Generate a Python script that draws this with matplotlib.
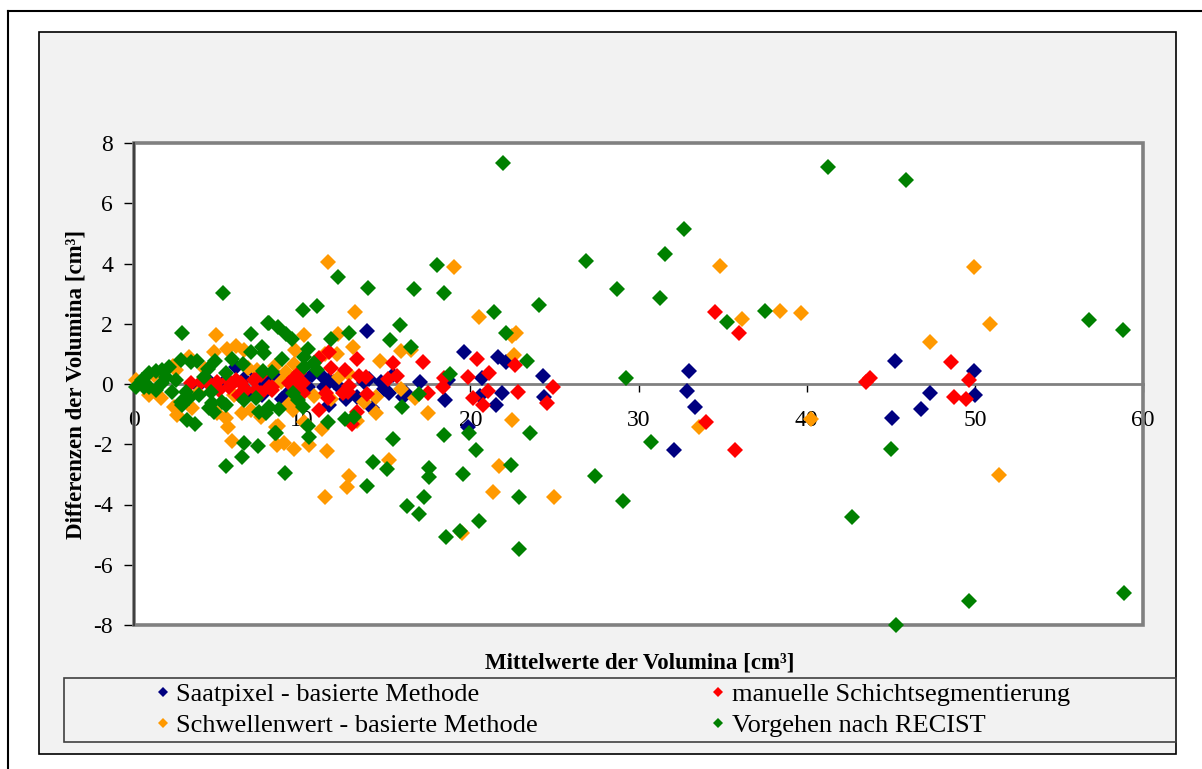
import matplotlib
matplotlib.use("Agg")
import matplotlib.pyplot as plt
from matplotlib.patches import Rectangle
from matplotlib.lines import Line2D

plt.rcParams['font.family'] = ['Liberation Serif', 'DejaVu Serif']

W, H = 1202, 769

# Mean volume (x) and volume difference (y), cm^3
saat_x = [32.98, 32.88, 33.37, 32.12, 45.26, 49.98, 50.02, 47.36, 46.81, 45.1,
          19.64, 21.65, 22.12, 20.69, 24.3, 18.69, 18.49, 20.6, 21.9, 21.53, 24.38, 19.84,
          13.83, 11.21, 11.61, 11.31, 9.23, 10.12, 10.32, 9.03, 13.29, 12.6, 11.61, 14.68,
          14.88, 15.18, 15.97, 14.18, 9.72, 6.05, 6.55, 7.64, 5.46, 7.44, 7.84,
          5.2, 6.8, 7.2, 8.6, 9.5, 10.6, 11.9, 12.3, 13.7, 14.0, 15.4, 16.2, 17.0, 8.8, 4.5, 3.8]
saat_y = [0.42, -0.22, -0.76, -2.18, 0.77, 0.42, -0.37, -0.31, -0.83, -1.13,
          1.06, 0.91, 0.73, 0.19, 0.27, 0.13, -0.53, -0.40, -0.31, -0.71, -0.44, -1.44,
          1.77, 0.24, 0.13, -0.09, 0.24, 0.13, -0.09, -0.37, -0.42, -0.50, -0.70, 0.08,
          -0.18, -0.29, -0.42, -0.81, 0.08, 0.55, 0.16, -0.37, 0.13, -0.09, 0.13,
          -0.1, -0.25, 0.35, 0.2, -0.2, 0.3, 0.05, -0.15, 0.05, 0.15, 0.3, -0.3, 0.05, -0.5, 0.05, -0.05]

manuell_x = [34.56, 35.99, 33.99, 35.75, 43.5, 43.75, 48.57, 49.66, 48.75, 49.46,
             17.2, 20.4, 22.68, 21.09, 19.84, 18.43, 18.37, 17.48, 21.05, 20.16, 20.75, 22.86, 24.92, 24.54,
             11.61, 11.01, 13.29, 11.71, 12.56, 15.38, 15.63, 15.08, 13.79, 13.35, 8.23, 9.82, 9.52,
             10.02, 9.23, 9.72, 10.02, 12.76, 12.44, 11.41, 12.7, 13.83, 11.51, 11.01, 13.29, 12.99,
             3.37, 3.97, 4.46, 4.96, 5.56, 6.05, 5.06, 5.65, 6.35, 6.65, 7.14, 7.24, 8.04, 8.23,
             6.25, 4.66, 7.54, 7.54]
manuell_y = [2.40, 1.70, -1.27, -2.18, 0.08, 0.2, 0.73, 0.13, -0.44, -0.51,
             0.74, 0.83, 0.64, 0.35, 0.24, 0.19, -0.11, -0.31, -0.22, -0.48, -0.71, -0.28, -0.11, -0.62,
             1.07, 0.85, 0.82, 0.54, 0.46, 0.69, 0.27, 0.16, 0.24, 0.27, -0.09, 0.35, 0.19,
             0.02, 0.02, -0.2, -0.31, -0.07, -0.31, -0.31, -0.25, -0.33, -0.48, -0.86, -0.92, -1.34,
             0.02, 0.08, 0.02, 0.08, 0.13, 0.13, -0.2, -0.09, 0.02, -0.2, 0.13, -0.2, -0.09, -0.2,
             -0.37, -0.09, 0.30, -0.31]

schwelle_x = [34.86, 36.13, 38.43, 39.68, 33.59, 40.28, 49.98, 50.89, 47.32, 51.41,
              19.0, 20.54, 22.72, 22.48, 22.62, 16.47, 16.73, 17.48, 22.46, 21.73,
              15.16, 12.8, 12.68, 11.33, 21.35, 24.96, 19.5,
              11.51, 13.17, 12.16, 10.1, 9.58, 13.0, 11.37, 12.06, 14.6, 15.87, 8.41, 9.03, 9.52,
              12.8, 12.2, 8.75, 10.71, 11.71, 13.65, 14.38, 14.42, 15.87, 9.23, 9.46, 8.57, 10.12,
              8.91, 9.52, 10.42, 11.15, 11.45, 13.29,
              4.86, 5.51, 6.05, 4.76, 6.55, 6.75, 7.34, 3.27, 2.48, 0.1, 0.89, 2.38, 2.58, 3.43,
              4.96, 5.46, 5.56, 5.85, 6.45, 6.95, 8.43, 8.53, 5.95, 7.54,
              0.6, 1.6, 2.3, 1.2, 3.8, 4.2]
schwelle_y = [3.92, 2.16, 2.43, 2.37, -1.43, -1.17, 3.90, 1.98, 1.40, -3.02,
              3.87, 2.21, 1.70, 1.59, 0.95, 1.13, -0.48, -0.97, -1.2, -2.72,
              -2.52, -3.05, -3.41, -3.76, -3.59, -3.74, -4.94,
              4.05, 2.38, 1.66, 1.63, 1.13, 1.22, 0.99, 0.99, 0.77, 1.11, 0.6, 0.41, 0.65,
              0.33, 0.24, 0.07, -0.40, -0.51, -0.59, -0.95, -0.42, -0.15, -0.66, -0.86, -1.39, -1.25,
              -1.95, -2.16, -2.02, -1.49, -2.22, -1.23,
              1.64, 1.15, 1.26, 1.07, 1.13, 0.52, 0.46, 0.91, 0.46, 0.13, -0.37, -0.75, -1.03, -0.81,
              -0.97, -1.14, -1.42, -1.88, -0.97, -0.86, -1.42, -2.02, -0.37, -1.08,
              0.05, -0.45, 0.6, 0.3, -0.3, 0.5]

recist_x = [41.25, 32.68, 31.57, 28.71, 31.25, 35.28, 37.54, 29.24, 30.77,
            45.89, 56.79, 58.81, 45.04, 42.7, 45.3, 49.68, 58.85, 27.4, 29.05,
            21.92, 17.99, 16.65, 18.45, 26.85, 24.11, 21.39, 22.1, 23.35, 16.49, 18.77, 16.93,
            18.41, 19.9, 20.36, 23.57, 17.56, 17.56, 19.54, 22.44,
            8.99, 14.24, 15.04, 13.83, 17.22, 16.23, 16.94, 20.5, 19.36, 18.53, 22.92, 22.88,
            12.12, 13.93, 10.06, 10.87, 15.8, 12.8, 8.57, 9.03, 9.37, 8.04, 11.71, 15.24,
            10.33, 10.12, 8.83, 10.69, 10.91, 10.12, 8.23, 9.48, 9.78, 10.02, 8.63, 10.32,
            8.43, 10.42, 11.56, 12.52, 13.1, 15.91, 15.42,
            5.28, 2.88, 7.99, 6.98, 6.98, 7.64, 7.74, 4.80, 5.85, 6.49, 2.78, 3.37, 3.77,
            2.08, 1.29, 4.39, 4.18, 5.46, 7.68, 0.5, 0.1, 0.89, 1.69, 1.89, 2.48, 1.29,
            2.28, 3.08, 3.87, 2.78, 3.27, 4.56, 5.26, 5.46, 4.66, 4.46, 4.76, 2.88, 6.55,
            7.24, 7.44, 7.84, 8.04, 8.37, 3.13, 3.63, 6.55, 7.4, 6.41, 5.46, 1.69, 0.89, 0.6]
recist_y = [7.19, 5.16, 4.33, 3.16, 2.85, 2.06, 2.42, 0.21, -1.93,
            6.78, 2.12, 1.80, -2.16, -4.43, -8.0, -7.2, -6.95, -3.05, -3.9,
            7.34, 3.95, 3.14, 3.02, 4.09, 2.61, 2.39, 1.70, 0.77, 1.24, 0.33, -0.33,
            -1.70, -1.62, -2.19, -1.62, -2.80, -3.08, -3.0, -2.70,
            -2.97, -2.58, -2.83, -3.37, -3.74, -4.05, -4.32, -4.55, -4.89, -5.09, -3.74, -5.48,
            3.55, 3.19, 2.47, 2.58, 1.96, 1.70, 1.90, 1.66, 1.48, 2.04, 1.49, 1.46,
            1.16, 0.91, 0.82, 0.69, 0.46, 0.57, 0.41, -0.31, -0.53, -0.75, -0.84, -1.39,
            -1.62, -1.77, -1.25, -1.17, -1.11, -0.77, -1.83,
            3.02, 1.70, 2.01, 1.66, 1.07, 1.24, 1.02, 0.76, 0.84, 0.66, 0.80, 0.74, 0.76,
            0.55, 0.44, 0.49, 0.24, 0.35, 0.44, 0.13, -0.09, -0.09, 0.02, 0.24, 0.13, -0.2,
            -0.25, -0.25, -0.37, -0.59, -0.48, -0.25, -0.59, -0.70, -0.64, -0.81, -0.92, -0.70, -0.53,
            -0.48, -0.92, -0.97, -0.75, -1.64, -1.2, -1.33, -1.97, -2.05, -2.41, -2.72, 0.46, 0.35, -0.09]

labels = ["Saatpixel - basierte Methode", "Schwellenwert - basierte Methode",
          "manuelle Schichtsegmentierung", "Vorgehen nach RECIST"]
colors = ["#000080", "#FF9900", "#FF0000", "#008000"]
x_ticks = [0, 10, 20, 30, 40, 50, 60]
y_ticks = [-8, -6, -4, -2, 0, 2, 4, 6, 8]


def fbox(x0, y0, x1, y1):
    """Pixel box (top-left origin) -> figure fraction [left, bottom, width, height]."""
    return [x0 / W, 1 - y1 / H, (x1 - x0) / W, (y1 - y0) / H]


fig = plt.figure(figsize=(W / 100, H / 100), dpi=100)
fig.patch.set_facecolor("white")

# outer frame (left and top edges)
fig.add_artist(Line2D([8 / W, 8 / W], [0, 1 - 11 / H], transform=fig.transFigure, color="black", lw=1.5))
fig.add_artist(Line2D([8 / W, 1], [1 - 11 / H, 1 - 11 / H], transform=fig.transFigure, color="black", lw=1.5))

# chart area
b = fbox(39, 32, 1176, 754)
fig.add_artist(Rectangle((b[0], b[1]), b[2], b[3], transform=fig.transFigure,
                         facecolor="#f2f2f2", edgecolor="black", lw=1.2, zorder=0))

# legend box
b = fbox(64, 678, 1176, 742)
fig.add_artist(Rectangle((b[0], b[1]), b[2], b[3], transform=fig.transFigure,
                         facecolor="none", edgecolor="#404040", lw=1.2, zorder=1))

ax = fig.add_axes(fbox(134, 143, 1143, 625))
ax.set_facecolor("white")
ax.set_xlim(0, 60)
ax.set_ylim(-8, 8)

# plot-area border
ax.add_patch(Rectangle((0, 0), 1, 1, transform=ax.transAxes, fill=False,
                       edgecolor="#808080", lw=2.6, zorder=2, clip_on=False))
for s in ["top", "right"]:
    ax.spines[s].set_visible(False)
ax.spines["left"].set_color("#404040")
ax.spines["left"].set_linewidth(1.5)
ax.spines["bottom"].set_position(("data", 0))
ax.spines["bottom"].set_color("#808080")
ax.spines["bottom"].set_linewidth(2)

ax.set_xticks(x_ticks)
ax.set_yticks(y_ticks)
ax.set_xticklabels([str(v) for v in x_ticks])
ax.set_yticklabels([str(v) for v in y_ticks])
ax.tick_params(axis="x", direction="out", length=6, width=1, color="black",
               labelsize=17, pad=13)
ax.tick_params(axis="y", direction="out", length=7, width=1, color="black",
               labelsize=17, pad=8)

series = [(saat_x, saat_y), (schwelle_x, schwelle_y), (manuell_x, manuell_y), (recist_x, recist_y)]
for (xs, ys), c, lab in zip(series, colors, labels):
    ax.plot(xs, ys, linestyle="none", marker="D", markersize=8, color=c,
            markeredgewidth=0, label=lab, clip_on=False, zorder=3)

ax.set_ylabel("Differenzen der Volumina [cm³]", fontsize=16.5, fontweight="bold")
ax.yaxis.set_label_coords(-47 / 1009, 0.5)
fig.text(640 / W, 1 - 663 / H, "Mittelwerte der Volumina [cm³]", fontsize=16.5,
         fontweight="bold", ha="center", va="center")

leg_handles = [Line2D([], [], linestyle="none", marker="D", markersize=5.5, color=c, markeredgewidth=0)
               for c in colors]
fig.legend(leg_handles, labels, ncol=2, loc="center", bbox_to_anchor=(613 / W, 1 - 710 / H),
           frameon=False, fontsize=19, handlelength=0.5, handletextpad=0.25,
           columnspacing=6.6, labelspacing=0.3, borderpad=0)

fig.savefig("out.png", dpi=100)
